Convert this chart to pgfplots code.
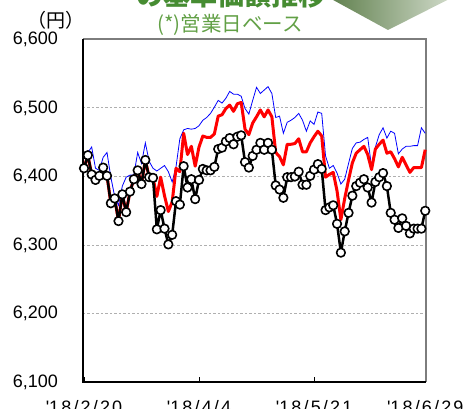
\documentclass[border=0pt]{standalone}
\usepackage{fontspec}
\setmainfont{Liberation Sans}
\newfontfamily\cjk{Noto Sans CJK JP}
\newfontfamily\tickfont[LetterSpace=12]{Liberation Sans}
\usepackage{pgfplots}
\pgfplotsset{compat=1.18}
\usepackage{pgfplotstable}
\definecolor{subgreen}{RGB}{98,160,70}
\definecolor{titlegreen}{RGB}{70,140,50}
\definecolor{trileft}{RGB}{80,115,60}
\definecolor{triright}{RGB}{225,232,220}
\definecolor{bordergray}{RGB}{125,125,125}
\definecolor{gridgray}{RGB}{175,175,175}

\pgfplotstableread{
x b r u
0 6412 6412 6416
1 6431 6431 6435
2 6403 6403 6443
3 6395 6395 6412
4 6401 6401 6409
5 6413 6413 6428
6 6401 6401 6435
7 6361 6361 6399
8 6368 6368 6371
9 6335 6335 6358
10 6374 6374 6386
11 6348 6348 6399
12 6378 6378 6402
13 6396 6396 6402
14 6409 6409 6435
15 6389 6389 6419
16 6424 6424 6449
17 6399 6399 6422
18 6398 6398 6412
19 6323 6371 6408
20 6351 6399 6412
21 6324 6372 6416
22 6301 6349 6407
23 6315 6363 6392
24 6364 6412 6414
25 6359 6407 6455
26 6415 6463 6468
27 6384 6432 6470
28 6396 6444 6469
29 6367 6415 6470
30 6395 6443 6474
31 6411 6459 6482
32 6409 6457 6486
33 6409 6457 6492
34 6414 6462 6501
35 6440 6488 6511
36 6442 6490 6507
37 6451 6499 6514
38 6456 6504 6524
39 6447 6495 6520
40 6458 6506 6520
41 6460 6508 6517
42 6421 6469 6499
43 6413 6461 6491
44 6430 6478 6511
45 6439 6487 6530
46 6449 6497 6521
47 6439 6487 6526
48 6449 6497 6531
49 6439 6487 6521
50 6387 6435 6486
51 6381 6429 6488
52 6369 6417 6463
53 6399 6447 6479
54 6399 6447 6482
55 6400 6448 6486
56 6407 6455 6492
57 6388 6436 6482
58 6388 6436 6466
59 6401 6449 6481
60 6410 6458 6476
61 6418 6466 6494
62 6411 6459 6492
63 6351 6399 6430
64 6355 6403 6412
65 6358 6406 6416
66 6331 6379 6405
67 6289 6337 6389
68 6320 6368 6396
69 6347 6395 6419
70 6372 6420 6441
71 6386 6434 6449
72 6391 6439 6450
73 6396 6444 6454
74 6384 6432 6457
75 6362 6410 6414
76 6392 6440 6443
77 6399 6447 6461
78 6405 6453 6471
79 6386 6434 6456
80 6347 6436 6466
81 6337 6426 6463
82 6325 6414 6433
83 6339 6428 6440
84 6328 6417 6444
85 6317 6406 6444
86 6324 6413 6445
87 6324 6413 6445
88 6324 6413 6471
89 6350 6439 6463
}\data

\begin{document}
\begin{tikzpicture}
\begin{axis}[
  scale only axis, width=343pt, height=343pt,
  xmin=-0.26, xmax=89.2, ymin=6100, ymax=6600,
  clip=false,
  axis line style={draw=none},
  xtick={0,30,60,89},
  xticklabels={\textquotesingle18/2/20,\textquotesingle18/4/4,\textquotesingle18/5/21,\textquotesingle18/6/29},
  xtick pos=bottom, tick align=inside,
  x tick style={black, line width=0.8pt},
  major tick length=5pt,
  ytick={6100,6200,6300,6400,6500,6600},
  y tick style={draw=none},
  ymajorgrids,
  grid style={gridgray, dash pattern=on 2.5pt off 2pt, line width=0.8pt},
  /pgf/number format/.cd, 1000 sep={,}, assume math mode=true, /pgfplots/.cd,
  yticklabel style={font=\fontsize{18}{18}\selectfont, anchor=east, inner sep=0pt, xshift=-25pt},
  xticklabel style={font=\tickfont\fontsize{18}{18}\selectfont, anchor=base, inner sep=0pt, yshift=-31pt},
]
\draw[bordergray, line width=2pt] (rel axis cs:0,1) -- (rel axis cs:1,1) -- (rel axis cs:1,0);
\draw[black, line width=2pt] (rel axis cs:0,1) -- (rel axis cs:0,0) -- (rel axis cs:1,0);
\addplot[blue, line width=0.8pt, no markers] table[x=x, y=u] {\data};
\addplot[red, line width=3pt, no markers, line join=round] table[x=x, y=r] {\data};
\addplot[black, line width=2.5pt, line join=round, mark=*, mark size=4.3pt,
  mark options={fill=white, draw=black, line width=1.6pt}] table[x=x, y=b] {\data};
\coordinate (O) at (rel axis cs:0,0);
\end{axis}
\begin{scope}[shift={(O)}, xshift=-83pt, yshift=-26.7pt, x=1pt, y=1pt]
\shade[left color=trileft, right color=triright] (313,420) -- (469,420) -- (388,379) -- cycle;
\node[anchor=base, text=titlegreen, font=\cjk\bfseries\fontsize{27}{27}\selectfont, inner sep=0pt] at (231.5,403) {の基準価額推移};
\node[text=subgreen, font=\cjk\fontsize{20.5}{20.5}\selectfont, inner sep=0pt] at (230,384) {(*)営業日ベース};
\node[font=\cjk\fontsize{19}{19}\selectfont, inner sep=0pt] at (56,388.5) {（円）};
\pgfresetboundingbox
\path[use as bounding box] (0,0) rectangle (472,409);
\end{scope}
\end{tikzpicture}
\end{document}
